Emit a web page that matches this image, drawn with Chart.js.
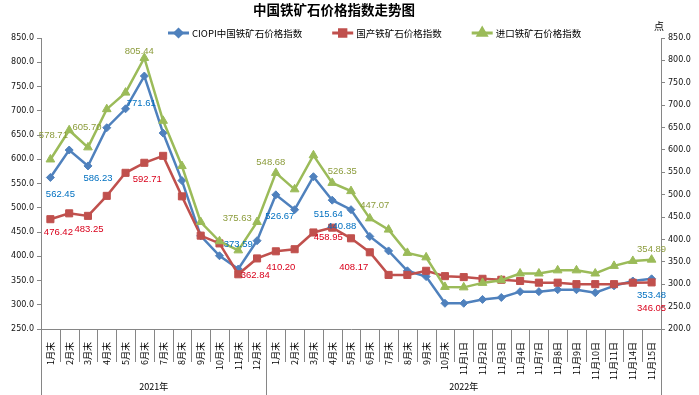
<!DOCTYPE html>
<html><head><meta charset="utf-8">
<script src="https://cdn.jsdelivr.net/npm/chart.js@4"></script>
<style>html,body{margin:0;padding:0;background:#fff}#w{width:699px;height:395px;position:relative}</style>
</head><body><div id="w"><canvas id="c"></canvas></div>
<script>
const chartTitle = '中国铁矿石价格指数走势图';
const unitLabel = '点';
const categories = ['1月末','2月末','3月末','4月末','5月末','6月末','7月末','8月末','9月末','10月末','11月末','12月末',
  '1月末','2月末','3月末','4月末','5月末','6月末','7月末','8月末','9月末','10月末',
  '11月1日','11月2日','11月3日','11月4日','11月7日','11月8日','11月9日','11月10日','11月11日','11月14日','11月15日'];
const groupNames = ['2021年','2022年'];
const groupSizes = [12, 21];
const seriesNames = ['CIOPI中国铁矿石价格指数','国产铁矿石价格指数','进口铁矿石价格指数'];
const ciopi = [562.45,619,586.23,665,704,771.61,654,556,442,401,373.59,432,
  526.67,496,564,515.64,496,440.88,411,370,358,303,
  303,311,315,327,327,331,331,325,339,349,353.48];
const domestic = [476.42,488.5,483.25,524.5,572,592.71,607,523.5,442.5,426.5,362.84,395.5,
  410.20,414.5,449,458.95,437,408.17,361.5,361.5,370,359,
  357,353.5,351.5,349,345.5,345.5,342.5,342.5,342.5,345.5,346.05];
const imported = [578.71,644,605.70,691,728,805.44,665,564,439,396,375.63,439,
  548.68,512,588,526.35,508,447.07,422,370,360,294,
  293,303,309,324,324,331,331,324,341,352,354.89];
const leftTicks = {min:250, max:850, step:50};
const rightTicks = {min:200, max:850, step:50};
// indices that carry a value label
const labelIndex = [0,2,5,10,12,15,17,32];

const colors = ['#4F81BD','#C0504D','#9BBB59'];
const labelColors = ['#0070C0','#D9001B','#8C9C3C'];
// label offsets (text centre relative to point), per series
const labelOffsets = [
  [[10,17],[10,12],[-3,27],[0,-25],[4,22],[-4,14],[-28,-10],[0,17]],
  [[8,13],[1,14],[3,17],[17,1],[5,16],[-4,10],[-16,15],[0,26]],
  [[3,-24],[-1,-20],[-5,-7],[-1,-32],[-5,-11],[10,-12],[5,-13],[0,-10]]
];

const decor = {
  id:'decor',
  afterDatasetsDraw(chart){
    const ctx = chart.ctx;
    ctx.save();
    ctx.font = '9.5px "Liberation Sans", Arial, sans-serif';
    ctx.textAlign = 'center'; ctx.textBaseline = 'middle';
    chart.data.datasets.forEach((ds, di) => {
      const meta = chart.getDatasetMeta(di);
      ctx.fillStyle = labelColors[di];
      labelIndex.forEach((idx, k) => {
        const p = meta.data[idx];
        const o = labelOffsets[di][k];
        ctx.fillText(ds.data[idx].toFixed(2), p.x + o[0], p.y + o[1]);
      });
    });
    ctx.restore();
  },
  afterDraw(chart){
    const ctx = chart.ctx, ca = chart.chartArea, xs = chart.scales.x;
    const H = chart.height;
    ctx.save();
    // category separators
    const n = categories.length;
    const half = (xs.getPixelForValue(1) - xs.getPixelForValue(0)) / 2;
    const bounds = [0]; let acc = 0; groupSizes.forEach(s => { acc += s; bounds.push(acc); });
    ctx.strokeStyle = '#868686'; ctx.lineWidth = 1;
    for (let i = 0; i <= n; i++) {
      const x = Math.round(i === n ? xs.getPixelForValue(n-1) + half : xs.getPixelForValue(i) - half) + 0.5;
      const long = bounds.includes(i);
      ctx.beginPath(); ctx.moveTo(x, ca.bottom); ctx.lineTo(x, long ? H : ca.bottom + 33); ctx.stroke();
    }
    // group labels
    ctx.fillStyle = '#000';
    ctx.font = '9px "Noto Sans CJK SC", sans-serif';
    ctx.textAlign = 'center'; ctx.textBaseline = 'middle';
    for (let g = 0; g < groupNames.length; g++) {
      const x0 = xs.getPixelForValue(bounds[g]) - half;
      const x1 = xs.getPixelForValue(bounds[g+1]-1) + half;
      ctx.fillText(groupNames[g], (x0 + x1) / 2, 387);
    }
    // title
    ctx.font = 'bold 13.5px "Noto Sans CJK SC", sans-serif';
    ctx.fillText(chartTitle, 334, 10);
    // unit
    ctx.font = '10px "Noto Sans CJK SC", sans-serif';
    ctx.fillText(unitLabel, 659, 26);
    // legend
    ctx.font = '9.5px "Noto Sans CJK SC", sans-serif';
    ctx.textAlign = 'left';
    let lx = 168; const ly = 33;
    chart.data.datasets.forEach((ds, di) => {
      ctx.strokeStyle = colors[di]; ctx.lineWidth = 3;
      ctx.beginPath(); ctx.moveTo(lx, ly); ctx.lineTo(lx + 21, ly); ctx.stroke();
      Chart.helpers.drawPoint(ctx, {pointStyle: ds.pointStyle, radius: ds.pointRadius - 0.5, borderWidth: 1}, lx + 10.5, ly);
      ctx.fillStyle = colors[di];
      ctx.fill();
      ctx.fillStyle = '#000';
      ctx.fillText(ds.label, lx + 24, ly + 0.5);
      lx += 24 + ctx.measureText(ds.label).width + 30;
    });
    ctx.restore();
  }
};

const tickFont = {family:'"DejaVu Sans", sans-serif', size:8};
new Chart(document.getElementById('c'), {
  type:'line',
  data:{
    labels: categories,
    datasets:[
      {label:seriesNames[0], data:ciopi, yAxisID:'y', borderColor:colors[0], backgroundColor:colors[0],
       pointStyle:'rectRot', pointRadius:4, pointBorderWidth:1, borderWidth:2.5, order:3},
      {label:seriesNames[1], data:domestic, yAxisID:'y', borderColor:colors[1], backgroundColor:colors[1],
       pointStyle:'rect', pointRadius:5, pointBorderWidth:1, borderWidth:2.5, order:2},
      {label:seriesNames[2], data:imported, yAxisID:'y2', borderColor:colors[2], backgroundColor:colors[2],
       pointStyle:'triangle', pointRadius:5, pointBorderWidth:1, borderWidth:2.5, order:1}
    ]
  },
  options:{
    responsive:true, maintainAspectRatio:false, animation:false,
    layout:{padding:{top:38, left:0, right:0, bottom:0}},
    plugins:{legend:{display:false}, title:{display:false}, tooltip:{enabled:false}},
    elements:{line:{tension:0}},
    scales:{
      x:{type:'category', offset:true,
         grid:{display:false, offset:true},
         border:{display:true, color:'#868686'},
         ticks:{autoSkip:false, minRotation:90, maxRotation:90, padding:5, color:'#000',
                font:{family:'"Noto Sans CJK SC", sans-serif', size:9}},
         afterFit:s => { s.height = 66; }},
      y:{position:'left', min:leftTicks.min, max:leftTicks.max,
         grid:{drawOnChartArea:false, color:'#868686', tickLength:4},
         border:{color:'#868686'},
         ticks:{stepSize:leftTicks.step, color:'#111', font:tickFont, padding:3, callback:v => Number(v).toFixed(1)},
         afterFit:s => { s.width = 41; }},
      y2:{position:'right', min:rightTicks.min, max:rightTicks.max,
         grid:{drawOnChartArea:false, color:'#868686', tickLength:4},
         border:{color:'#868686'},
         ticks:{stepSize:rightTicks.step, color:'#111', font:tickFont, padding:3, callback:v => Number(v).toFixed(1)},
         afterFit:s => { s.width = 38; }}
    }
  },
  plugins:[decor]
});
</script></body></html>
